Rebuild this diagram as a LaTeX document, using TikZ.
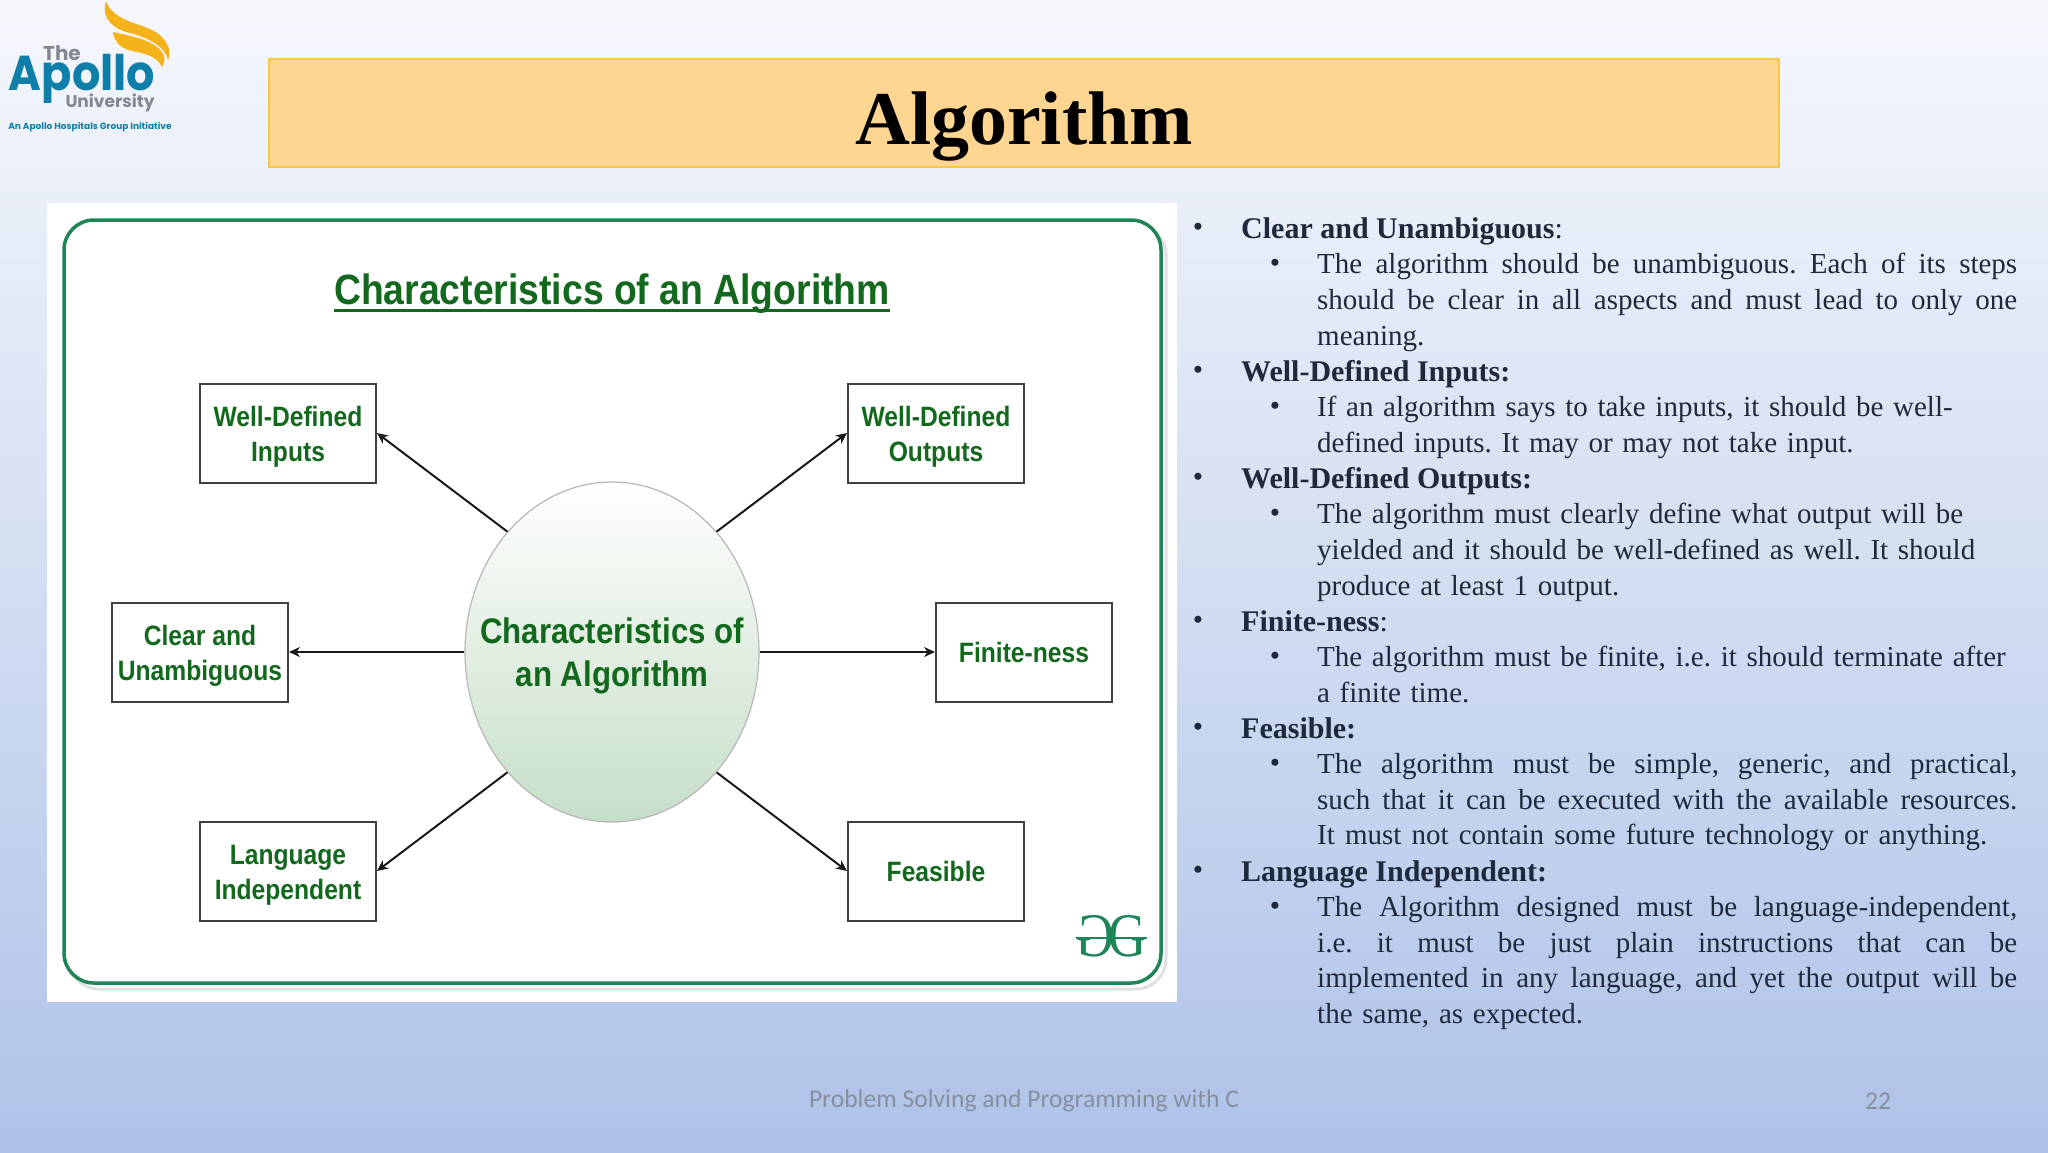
\documentclass[tikz,border=0pt]{standalone}
\usepackage{fontspec}
\usetikzlibrary{arrows.meta,shapes.geometric}
\setmainfont{Liberation Serif}
\newfontfamily\ggfont[FakeStretch=0.88]{Liberation Sans}
\newfontfamily\logofont{Poppins}
\newfontfamily\footfont{Carlito}

\definecolor{slidetop}{HTML}{F5F7FC}
\definecolor{slidemid}{HTML}{D3DEF2}
\definecolor{slidebot}{HTML}{AEC2E8}
\definecolor{bannerfill}{HTML}{FFD592}
\definecolor{bannerline}{HTML}{F7C843}
\definecolor{framegreen}{HTML}{1F8458}
\definecolor{gggreen}{HTML}{12681C}
\definecolor{ballgreen}{HTML}{C6DFC9}
\definecolor{ballmid}{HTML}{E2EEE2}
\definecolor{logoteal}{HTML}{0F7EA8}
\definecolor{logogray}{HTML}{83878F}
\definecolor{logogold}{HTML}{F6B21A}
\definecolor{inktext}{HTML}{1E2A3C}
\definecolor{footgray}{HTML}{858F9E}

\tikzset{
  charbox/.style={draw=black!75, line width=2pt, fill=white, minimum width=176pt, minimum height=99pt,
    align=center, text=gggreen, font=\ggfont\bfseries\fontsize{28}{35}\selectfont},
  charboxtwo/.style={charbox, text height=64pt, text depth=7pt},
  chararrow/.style={-{Stealth[length=11pt,width=10pt]}, line width=2pt, black!90},
  headtext/.style={anchor=base west, inner sep=0pt, text=inktext, font=\fontsize{30}{35.8}\selectfont\frenchspacing},
  subtext/.style={anchor=north west, inner sep=0pt, text width=700pt, text=inktext, font=\fontsize{29}{35.8}\selectfont\frenchspacing},
  dotmark/.style={anchor=base, inner sep=0pt, text=inktext, font=\fontsize{29.5}{35.8}\selectfont},
}

\begin{document}
\begin{tikzpicture}[x=1pt, y=-1pt]

\useasboundingbox ( 0, 0 ) rectangle ( 2048, 1152 );

% Slide background
\shade [top color=slidetop, bottom color=slidemid] ( 0, 0 ) rectangle ( 2048, 576 );
\shade [top color=slidemid, bottom color=slidebot] ( 0, 576 ) rectangle ( 2048, 1152 );

% Flame of the logo
\fill [logogold] ( 106, 1 ) .. controls ( 113, 20 ) and ( 135, 22 ) .. ( 152, 30 )
  .. controls ( 168, 38 ) and ( 172, 52 ) .. ( 168, 60 ) .. controls ( 166, 48 ) and ( 150, 38 ) .. ( 130, 33 )
  .. controls ( 116, 30 ) and ( 100, 20 ) .. ( 106, 1 );
\fill [logogold] ( 113, 32 ) .. controls ( 130, 36 ) and ( 158, 40 ) .. ( 164, 56 ) .. controls ( 165, 60 ) and ( 164, 64 ) .. ( 162, 67 )
  .. controls ( 156, 54 ) and ( 140, 53 ) .. ( 128, 50 ) .. controls ( 118, 46 ) and ( 114, 40 ) .. ( 113, 32 );

% Logo texts
\node (logothe) at ( 62, 53 ) [inner sep=0pt, text=logogray, font=\logofont\bfseries\fontsize{20}{20}\selectfont] {The};
\node (logoname) at ( 82, 79 ) [xscale=0.91, inner sep=0pt, text=logoteal, font=\logofont\bfseries\fontsize{49}{49}\selectfont] {Apollo};
\node (logouni) at ( 110, 103 ) [inner sep=0pt, text=logogray, font=\logofont\bfseries\fontsize{17}{18}\selectfont] {University};
\node (logotag) at ( 90, 127 ) [inner sep=0pt, text=logoteal, font=\logofont\bfseries\fontsize{9}{9}\selectfont] {An Apollo Hospitals Group Initiative};

% Banner
\node (banner) at ( 1024, 113 ) [draw=bannerline, line width=1.5pt, fill=bannerfill, minimum width=1510pt, minimum height=108pt, inner sep=0pt] {};
\node (bannertext) at ( 1024, 127 ) [inner sep=0pt, font=\bfseries\fontsize{76}{76}\selectfont] {Algorithm};

% Picture on the left
\fill [white] ( 47, 203 ) rectangle ( 1177, 1002 );
\draw [black!12, line width=3pt, rounded corners=30pt] ( 69, 225 ) rectangle ( 1166, 989 );
\draw [framegreen, line width=3.5pt, rounded corners=30pt, fill=white] ( 64, 220 ) rectangle ( 1161, 983 );

% Title of the picture
\node (chartitle) at ( 612, 294 ) [inner sep=0pt, text=gggreen, font=\ggfont\bfseries\fontsize{42.4}{50}\selectfont] {Characteristics of an Algorithm};
\draw [gggreen, line width=3pt] ([yshift=-6pt]chartitle.base west) -- ([yshift=-6pt]chartitle.base east);

% Centre and boxes
\node (core) at ( 612, 652 ) [ellipse, draw=black!28, line width=1.2pt, top color=white, bottom color=ballgreen, middle color=ballmid,
  minimum width=294pt, minimum height=340pt, inner sep=0pt] {};
\node (coretext) at ( 612, 656 ) [inner sep=0pt, align=center, text=gggreen, font=\ggfont\bfseries\fontsize{35.5}{43}\selectfont] {Characteristics of\\an Algorithm};

\node (wdinputs) at ( 288, 433 ) [charboxtwo] {Well-Defined\\Inputs};
\node (wdoutputs) at ( 936, 433 ) [charboxtwo] {Well-Defined\\Outputs};
\node (clear) at ( 200, 652 ) [charboxtwo] {Clear and\\Unambiguous};
\node (finite) at ( 1024, 652 ) [charbox] {Finite-ness};
\node (language) at ( 288, 871 ) [charboxtwo] {Language\\Independent};
\node (feasible) at ( 936, 871 ) [charbox] {Feasible};

% Arrows
\draw [chararrow] (core.131) -- (wdinputs.east);
\draw [chararrow] (core.49) -- (wdoutputs.west);
\draw [chararrow] (core.west) -- (clear.east);
\draw [chararrow] (core.east) -- (finite.west);
\draw [chararrow] (core.229) -- (language.east);
\draw [chararrow] (core.311) -- (feasible.west);

% GG mark
\node (markleft) at ( 1095, 936 ) [xscale=-0.85, inner sep=0pt, text=framegreen, font=\fontsize{62}{62}\selectfont] {G};
\node (markright) at ( 1128, 936 ) [xscale=0.85, inner sep=0pt, text=framegreen, font=\fontsize{62}{62}\selectfont] {G};
\draw [framegreen, line width=2pt] ([yshift=-2pt]markleft.east) -- ([yshift=-2pt]markright.east);

% Right hand text
\node (dota) at ( 1198, 236 ) [dotmark] {•};
\node (heada) at ( 1241, 238 ) [headtext] {\textbf{Clear and Unambiguous}:};
\node (dotaa) at ( 1275, 272 ) [dotmark] {•};
\node (texta) at ( 1317, 253 ) [subtext, align=justify] {The algorithm should be unambiguous. Each of its steps\linebreak should be clear in all aspects and must lead to only one\linebreak meaning.};

\node (dotb) at ( 1198, 379 ) [dotmark] {•};
\node (headb) at ( 1241, 381 ) [headtext] {\textbf{Well-Defined Inputs:}};
\node (dotbb) at ( 1275, 415 ) [dotmark] {•};
\node (textb) at ( 1317, 396 ) [subtext, align=left] {If an algorithm says to take inputs, it should be well-\\defined inputs. It may or may not take input.};

\node (dotc) at ( 1198, 486 ) [dotmark] {•};
\node (headc) at ( 1241, 488 ) [headtext] {\textbf{Well-Defined Outputs:}};
\node (dotcc) at ( 1275, 522 ) [dotmark] {•};
\node (textc) at ( 1317, 503 ) [subtext, align=left] {The algorithm must clearly define what output will be\\yielded and it should be well-defined as well. It should\\produce at least 1 output.};

\node (dotd) at ( 1198, 629 ) [dotmark] {•};
\node (headd) at ( 1241, 631 ) [headtext] {\textbf{Finite-ness}:};
\node (dotdd) at ( 1275, 665 ) [dotmark] {•};
\node (textd) at ( 1317, 646 ) [subtext, align=left] {The algorithm must be finite, i.e. it should terminate after\\a finite time.};

\node (dote) at ( 1198, 736 ) [dotmark] {•};
\node (heade) at ( 1241, 738 ) [headtext] {\textbf{Feasible:}};
\node (dotee) at ( 1275, 772 ) [dotmark] {•};
\node (texte) at ( 1317, 753 ) [subtext, align=justify] {The algorithm must be simple, generic, and practical,\linebreak such that it can be executed with the available resources.\linebreak \hbox to 670pt{It must not contain some future technology or anything.}};

\node (dotf) at ( 1198, 879 ) [dotmark] {•};
\node (headf) at ( 1241, 881 ) [headtext] {\textbf{Language Independent:}};
\node (dotff) at ( 1275, 915 ) [dotmark] {•};
\node (textf) at ( 1317, 896 ) [subtext, align=justify] {The Algorithm designed must be language-independent,\linebreak i.e. it must be just plain instructions that can be\linebreak implemented in any language, and yet the output will be\linebreak \hbox to 266pt{the same, as expected.}};

% Footer
\node (foottext) at ( 1024, 1101 ) [inner sep=0pt, text=footgray, font=\footfont\fontsize{25.6}{26}\selectfont] {Problem Solving and Programming with C};
\node (footpage) at ( 1878, 1101 ) [inner sep=0pt, text=footgray, font=\footfont\fontsize{25.6}{26}\selectfont] {22};

\end{tikzpicture}
\end{document}
